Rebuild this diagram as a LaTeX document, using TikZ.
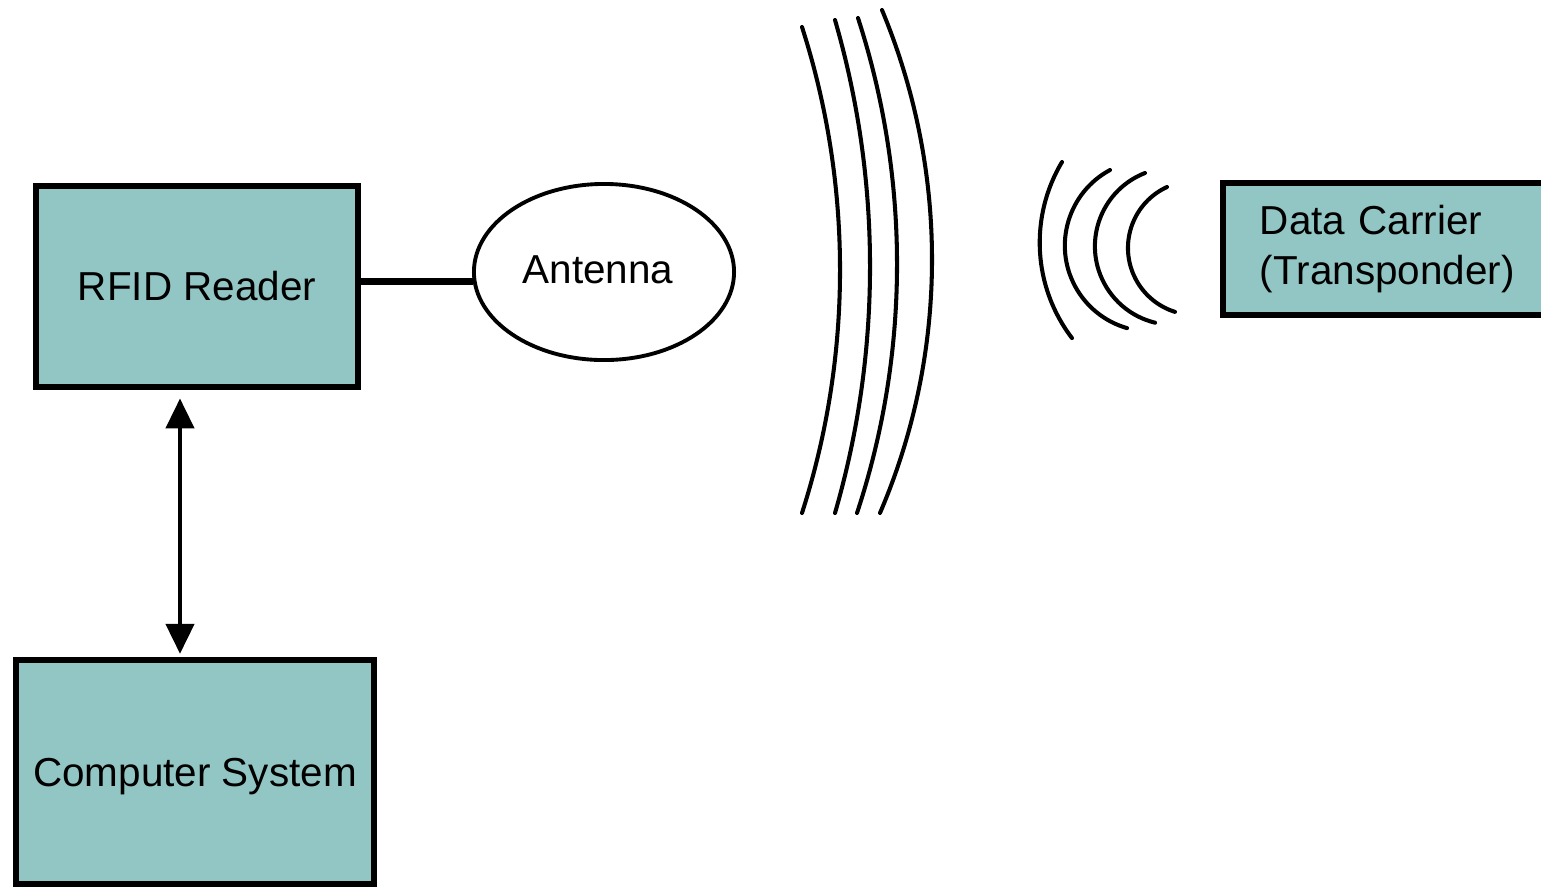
\documentclass[tikz,border=0pt]{standalone}
\usepackage{fontspec}
\setmainfont{Liberation Sans}
\usetikzlibrary{arrows.meta,shapes.geometric}
\definecolor{boxteal}{RGB}{146,198,196}
\begin{document}
\begin{tikzpicture}[x=0.01cm,y=-0.01cm,
  lbl/.style={font=\fontsize{11.5}{14}\selectfont},
  blk/.style={draw=black, line width=1.9pt, fill=boxteal, rectangle, inner sep=0pt, lbl},
  wave/.style={line width=1.15pt, line cap=round},
  link/.style={line width=1.1pt, >={Triangle[width=8pt,length=8.5pt]}}]
\useasboundingbox (0,0) rectangle (1541,887);
\clip (0,0) rectangle (1541,887);
\node[blk, minimum width=3.22cm, minimum height=2.01cm] (reader) at (197,286.5) {RFID Reader};
\node[blk, minimum width=3.58cm, minimum height=2.24cm, text depth=-0.04cm] (computer) at (195,772) {Computer System};
\node[blk, minimum width=3.77cm, minimum height=1.32cm, text width=3.03cm, inner xsep=0.37cm, align=left] (carrier) at (1411.5,249) {Data Carrier\\(Transponder)};
\node[ellipse, draw=black, line width=1.1pt, fill=white, minimum width=2.6cm, minimum height=1.76cm, inner sep=0pt, lbl] (antenna) at (604,272) {\hspace*{-0.12cm}\raisebox{0.04cm}{Antenna}};
\coordinate (ax) at (180,0);
\draw[line width=1.9pt] (antenna.184 -| reader.east) -- (antenna.184);
\draw[link, <->] ([yshift=-2.3pt]reader.south -| ax) -- ([yshift=0.8pt]computer.north -| ax);
% large waves
\draw[wave] (802,27) .. controls (852.7,185) and (852.7,355) .. (802,513);
\draw[wave] (835,20) .. controls (881.7,181) and (881.7,352) .. (835,513);
\draw[wave] (858,18) .. controls (910.2,179) and (910.2,352) .. (857,513);
\draw[wave] (882,10) .. controls (949,171) and (949,352) .. (880,513);
% small waves
\draw[wave] (1062,162) arc[start angle=149.1, end angle=217.4, radius=1.57cm];
\draw[wave] (1110,170) arc[start angle=118.3, end angle=254, radius=0.858cm];
\draw[wave] (1145,173) arc[start angle=111.3, end angle=256.4, radius=0.786cm];
\draw[wave] (1167,187) arc[start angle=114.7, end angle=252.6, radius=0.67cm];
\end{tikzpicture}
\end{document}
